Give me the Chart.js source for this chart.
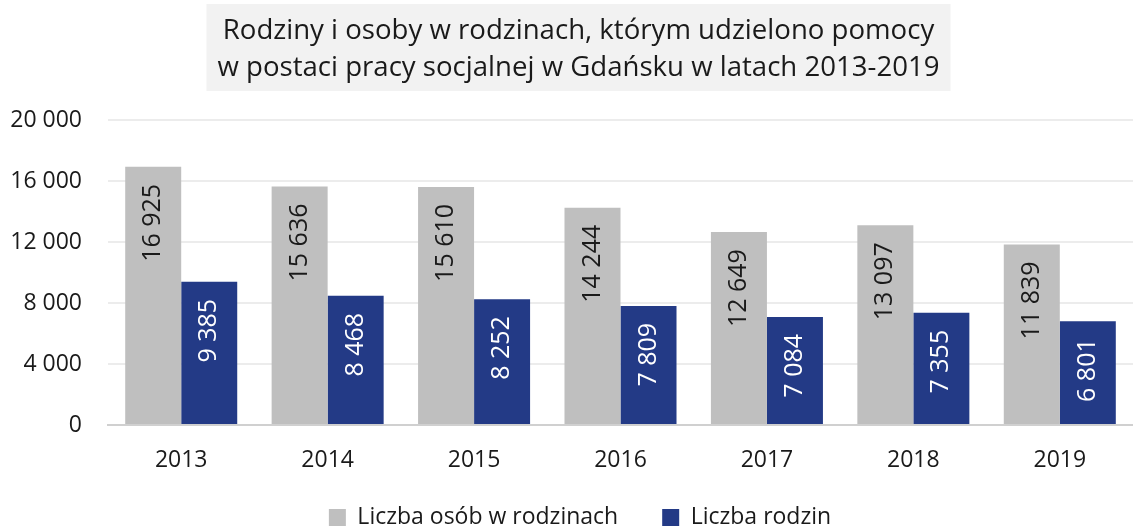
<!DOCTYPE html>
<html>
<head>
<meta charset="utf-8">
<script src="https://cdn.jsdelivr.net/npm/chart.js@4"></script>
<style>
html,body{margin:0;padding:0;background:#fff;}
#wrap{width:1133px;height:526px;position:relative;}
</style>
</head>
<body>
<div id="wrap"><canvas id="c" width="1133" height="526"></canvas></div>
<script>
const years = ['2013','2014','2015','2016','2017','2018','2019'];
const persons = [16925,15636,15610,14244,12649,13097,11839];
const families = [9385,8468,8252,7809,7084,7355,6801];
const seriesNames = ['Liczba osób w rodzinach','Liczba rodzin'];
const titleLines = ['Rodziny i osoby w rodzinach, którym udzielono pomocy','w postaci pracy socjalnej w Gdańsku w latach 2013-2019'];

const FONT = '"Open Sans", sans-serif';
const TITLE_SIZE = 27.6;
const LEGEND_PAD = 44;
function fmt(v){ return String(v).replace(/\B(?=(\d{3})+(?!\d))/g,' '); }

const layoutTweak = {
  id:'layoutTweak',
  afterInit(chart){
    const lg = chart.legend; if(!lg) return;
    const of = lg.fit.bind(lg);
    lg.fit = function(){ of(); this.height = 29; };
    const od = lg.draw.bind(lg);
    lg.draw = function(){ const t=this.top; this.top = t - LEGEND_PAD + 9; od(); this.top = t; };
  },
  afterLayout(chart){
    if(chart.titleBlock){ chart.titleBlock.left = 24; }
    if(chart.legend){ chart.legend.left = 27; }
  }
};

const titleBg = {
  id:'titleBg',
  beforeDraw(chart){
    const tb = chart.titleBlock; if(!tb) return;
    const ctx = chart.ctx;
    ctx.save();
    ctx.font = TITLE_SIZE + 'px ' + FONT;
    let w = 0; titleLines.forEach(l=>{w=Math.max(w,ctx.measureText(l).width);});
    const cx = (tb.left + tb.right)/2;
    ctx.fillStyle = '#f2f2f2';
    ctx.fillRect(cx - w/2 - 11, 4, w + 22, 87);
    ctx.restore();
  }
};

const barLabels = {
  id:'barLabels',
  afterDatasetsDraw(chart){
    const ctx = chart.ctx;
    chart.data.datasets.forEach((ds,i)=>{
      const meta = chart.getDatasetMeta(i);
      meta.data.forEach((bar,j)=>{
        ctx.save();
        ctx.translate(bar.x, bar.y + 17);
        ctx.rotate(-Math.PI/2);
        ctx.textAlign='right';
        ctx.textBaseline='middle';
        ctx.font = '25px ' + FONT;
        ctx.fillStyle = i===0 ? '#1a1a1a' : '#ffffff';
        ctx.fillText(fmt(ds.data[j]),0,0);
        ctx.restore();
      });
    });
  }
};

new Chart(document.getElementById('c'),{
  type:'bar',
  data:{
    labels: years,
    datasets:[
      {label:seriesNames[0], data:persons, backgroundColor:'#bfbfbf', borderWidth:0},
      {label:seriesNames[1], data:families, backgroundColor:'#233a86', borderWidth:0}
    ]
  },
  options:{
    responsive:false,
    animation:false,
    devicePixelRatio:1,
    layout:{padding:{left:0,right:0,top:0,bottom:0}},
    datasets:{bar:{categoryPercentage:0.765,barPercentage:1}},
    plugins:{
      title:{display:true,text:titleLines,font:{family:FONT,size:TITLE_SIZE,weight:'normal',lineHeight:1.34},color:'#1a1a1a',padding:{top:13,bottom:33}},
      legend:{position:'bottom',labels:{font:{family:FONT,size:23},color:'#1a1a1a',boxWidth:17,boxHeight:17,padding:LEGEND_PAD}},
      tooltip:{enabled:false}
    },
    scales:{
      x:{
        grid:{display:false,drawTicks:false},
        border:{display:true,color:'#d0d0d0',width:2},
        ticks:{font:{family:FONT,size:23},color:'#1a1a1a',padding:22},
        afterFit(s){ s.height = 72; }
      },
      y:{
        min:0,max:20000,
        ticks:{stepSize:4000,font:{family:FONT,size:23},color:'#1a1a1a',padding:26,callback:v=>fmt(v)},
        grid:{color:'#ececec',lineWidth:2,drawTicks:false},
        border:{display:false},
        afterFit(s){ s.width = 108; }
      }
    }
  },
  plugins:[layoutTweak,titleBg,barLabels]
});
</script>
</body>
</html>
